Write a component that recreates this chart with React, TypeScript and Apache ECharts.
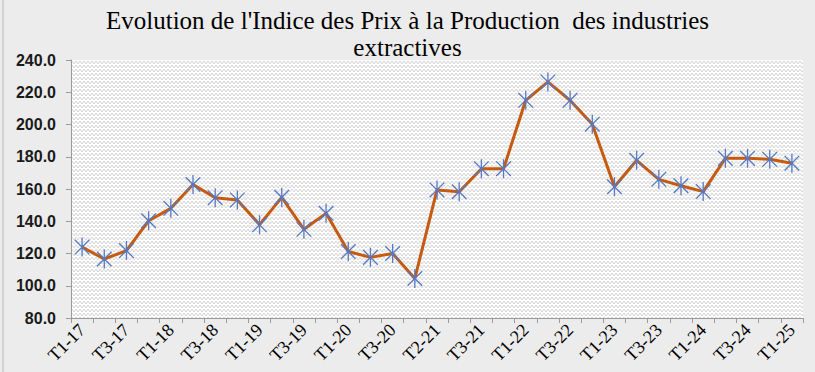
import React, { useEffect, useRef } from "react";
import * as echarts from "echarts";

const categories = [
  "T1-17", "T2-17", "T3-17", "T4-17",
  "T1-18", "T2-18", "T3-18", "T4-18",
  "T1-19", "T2-19", "T3-19", "T4-19",
  "T1-20", "T2-20", "T3-20", "T4-20",
  "T2-21", "T2-21", "T3-21", "T4-21",
  "T1-22", "T2-22", "T3-22", "T4-22",
  "T1-23", "T2-23", "T3-23", "T4-23",
  "T1-24", "T2-24", "T3-24", "T4-24",
  "T1-25",
];

const ippValues = [
  124.0, 116.6, 121.8, 140.3,
  148.0, 162.8, 154.6, 153.2,
  137.8, 154.8, 135.0, 144.9,
  121.2, 117.6, 120.0, 104.5,
  159.4, 158.3, 172.6, 172.6,
  215.0, 226.4, 215.0, 200.2,
  161.4, 177.8, 166.0, 162.0,
  158.4, 179.0, 179.0, 178.4,
  176.0,
];

const titleLines = [
  "Evolution de l'Indice des Prix à la Production  des industries",
  "extractives",
];

const yMin = 80;
const yMax = 240;
const yStep = 20;

function makePattern(): string {
  const c = document.createElement("canvas");
  c.width = 8;
  c.height = 8;
  const ctx = c.getContext("2d");
  if (!ctx) return "";
  ctx.fillStyle = "#fdfdfd";
  ctx.fillRect(0, 0, 8, 8);
  ctx.strokeStyle = "#d6d6d6";
  ctx.lineWidth = 1;
  ctx.beginPath();
  ctx.moveTo(0, 1);
  ctx.lineTo(2, 4);
  ctx.lineTo(4, 1);
  ctx.lineTo(6, 4);
  ctx.lineTo(8, 1);
  ctx.moveTo(0, 5);
  ctx.lineTo(2, 8);
  ctx.lineTo(4, 5);
  ctx.lineTo(6, 8);
  ctx.lineTo(8, 5);
  ctx.stroke();
  return c.toDataURL();
}

const titleStyle = {
  fontFamily: "'Liberation Serif', 'DejaVu Serif', serif",
  fontSize: 25,
  fontWeight: "normal",
  color: "#000000",
  lineHeight: 27,
};

export default function App() {
  const ref = useRef<HTMLDivElement>(null);

  useEffect(() => {
    if (!ref.current) return;
    const chart = echarts.init(ref.current, null, { renderer: "svg" });
    const pat = makePattern();
    chart.setOption({
      animation: false,
      backgroundColor: "#ececec",
      title: [
        { text: titleLines[0], left: "center", top: 7, padding: 0, textStyle: titleStyle },
        { text: titleLines[1], left: "center", top: 34, padding: 0, textStyle: titleStyle },
      ],
      graphic: [
        {
          type: "line",
          shape: { x1: 3, y1: 0, x2: 3, y2: 372 },
          style: { stroke: "#b8b8b8", lineWidth: 1 },
          silent: true,
        },
      ],
      grid: {
        left: 71,
        right: 12,
        top: 60,
        bottom: 54,
        show: true,
        borderWidth: 0,
        backgroundColor: pat ? { image: pat, repeat: "repeat" } : "#f2f2f2",
      },
      xAxis: {
        type: "category",
        data: categories,
        boundaryGap: true,
        axisLine: { show: true, lineStyle: { color: "#9a9a9a", width: 1 } },
        axisTick: { show: true, alignWithLabel: false, interval: 0, length: 5, lineStyle: { color: "#9a9a9a" } },
        axisLabel: {
          interval: 1,
          rotate: 45,
          margin: 9,
          fontFamily: "'Liberation Serif', 'DejaVu Serif', serif",
          fontSize: 18,
          color: "#000000",
        },
        splitLine: { show: false },
      },
      yAxis: {
        type: "value",
        min: yMin,
        max: yMax,
        interval: yStep,
        axisLine: { show: true, lineStyle: { color: "#9a9a9a", width: 1 } },
        axisTick: { show: true, length: 5, lineStyle: { color: "#9a9a9a" } },
        axisLabel: {
          formatter: (v: number) => v.toFixed(1),
          fontFamily: "'Liberation Sans', Arial, sans-serif",
          fontWeight: "bold",
          fontSize: 16,
          color: "#1a1a1a",
          margin: 15,
        },
        splitLine: { show: false },
      },
      series: [
        {
          type: "line",
          data: ippValues,
          showAllSymbol: true,
          lineStyle: { color: "#c55a11", width: 3 },
          symbol: "path://M0,0L10,10M10,0L0,10M5,-1.5L5,11.5",
          symbolSize: 19,
          symbolKeepAspect: true,
          itemStyle: { color: "none", borderColor: "#5579c4", borderWidth: 1.3 },
          z: 3,
        },
      ],
    });
    return () => chart.dispose();
  }, []);

  return (
    <div
      ref={ref}
      style={{ position: "absolute", left: 0, top: 0, width: 815, height: 372 }}
    />
  );
}
